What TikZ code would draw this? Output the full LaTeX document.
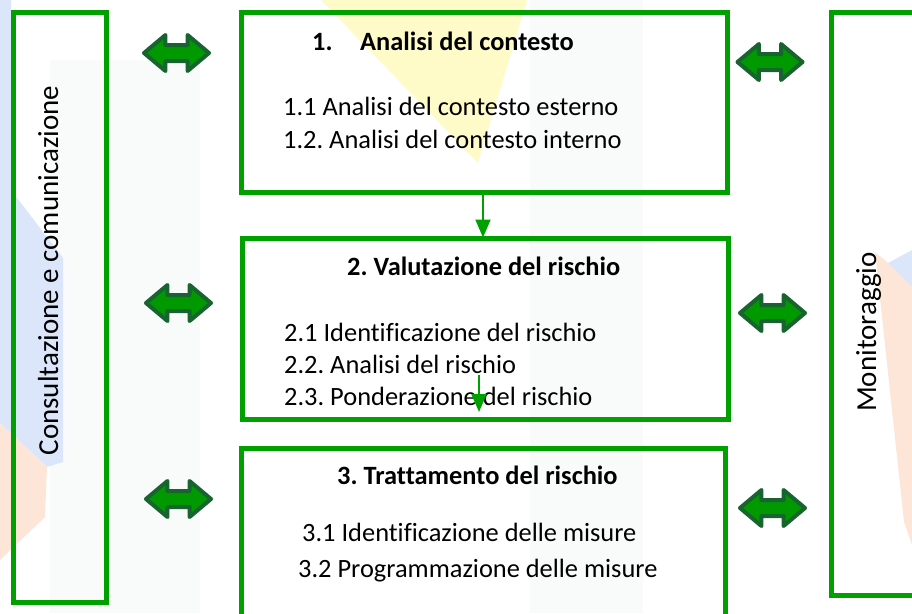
\documentclass[tikz,border=0pt]{standalone}
\usepackage{fontspec}
\setmainfont{Carlito}[Ligatures={NoCommon,NoRequired,NoContextual}]
\usetikzlibrary{shapes.arrows,arrows.meta}
\definecolor{boxgreen}{RGB}{0,160,0}
\definecolor{arrfill}{RGB}{0,153,0}
\definecolor{arrline}{RGB}{24,100,48}
\definecolor{wmyellow}{RGB}{255,251,200}
\definecolor{wmblue}{RGB}{220,230,250}
\definecolor{wmorange}{RGB}{253,230,216}
\definecolor{wmgray}{RGB}{249,250,250}
\tikzset{
  frame/.style={draw=boxgreen, line width=5pt, inner sep=0pt},
  txt/.style={anchor=base west, inner sep=0pt, font=\fontsize{26.4}{32}\selectfont},
  head/.style={anchor=base west, inner sep=0pt, font=\fontsize{26.4}{32}\selectfont\bfseries},
  vtxt/.style={anchor=base, rotate=90, inner sep=0pt, font=\fontsize{29}{34}\selectfont},
  darr/.style={shape=double arrow, draw=arrline, fill=arrfill, line width=4pt, line join=round,
    inner sep=6pt, minimum height=65pt, minimum width=32pt,
    double arrow head extend=10pt, double arrow tip angle=80},
  flow/.style={draw=boxgreen, line width=2pt, -{Triangle[width=15pt,length=18pt]}}
}
\begin{document}
\frenchspacing
\begin{tikzpicture}[x=1pt,y=-1pt]
\useasboundingbox (0,0) rectangle (912,613);
\clip (0,0) rectangle (912,613);
% faint watermark background
\fill[wmgray] (50,60) rectangle (200,613);
\fill[wmgray] (530,0) rectangle (643,613);
\fill[wmyellow] (321,0) -- (527,0) -- (478,163) -- cycle;
\fill[wmblue] (0,0) -- (11,0) -- (11,190) -- (63,258) -- (63,462) -- (47,467) -- (0,423) -- cycle;
\fill[wmorange] (0,423) -- (47,467) -- (45,517) -- (0,560) -- cycle;
\fill[wmorange] (875,252) -- (888,263) -- (912,287) -- (912,545) -- (904,522) -- cycle;
\fill[wmblue] (888,263) -- (912,250) -- (912,287) -- cycle;

% frames
\node[frame, minimum width=93pt, minimum height=590pt] (cons) at (60,307.5) {};
\node[frame, minimum width=119pt, minimum height=583pt] (mon) at (891,304) {};
\node[frame, minimum width=486pt, minimum height=180pt] (b1) at (484.5,102.5) {};
\node[frame, minimum width=486pt, minimum height=181.5pt] (b2) at (485.5,328.75) {};
\node[frame, minimum width=484pt, minimum height=192pt] (b3) at (483.5,544) {};

% vertical labels
\node[vtxt] (tcons) at (58,270.5) {Consultazione e comunicazione};
\node[vtxt] (tmon) at (876,332) {Monitoraggio};

% box 1
\node[head] (h1n) at (312,50) {1.};
\node[head] (h1) at (360,50) {Analisi del contesto};
\node[txt] (l11) at (283,115) {1.1 Analisi del contesto esterno};
\node[txt] (l12) at (283,148) {1.2. Analisi del contesto interno};
% box 2
\node[head] (h2) at (347,275) {2. Valutazione del rischio};
\node[txt] (l21) at (284,341) {2.1 Identificazione del rischio};
\node[txt] (l22) at (284,373) {2.2. Analisi del rischio};
\node[txt] (l23) at (284,405) {2.3. Ponderazione del rischio};
% box 3
\node[head] (h3) at (337,484) {3. Trattamento del rischio};
\node[txt] (l31) at (302,541) {3.1 Identificazione delle misure};
\node[txt] (l32) at (298,577) {3.2 Programmazione delle misure};

% flow arrows
\coordinate (fx1) at (483,0);
\coordinate (f2s) at (479,375);
\coordinate (f2e) at (479,412);
\draw[flow] (b1.south -| fx1) -- ([yshift=-2pt]b2.north -| fx1);
\draw[flow] (f2s) -- (f2e);

% double arrows
\node[darr] (al1) at (176.5,53) {};
\node[darr] (al2) at (178.5,303) {};
\node[darr] (al3) at (178.5,499) {};
\node[darr] (ar1) at (770,62) {};
\node[darr] (ar2) at (772.5,313) {};
\node[darr] (ar3) at (772.5,508) {};
\end{tikzpicture}
\end{document}
